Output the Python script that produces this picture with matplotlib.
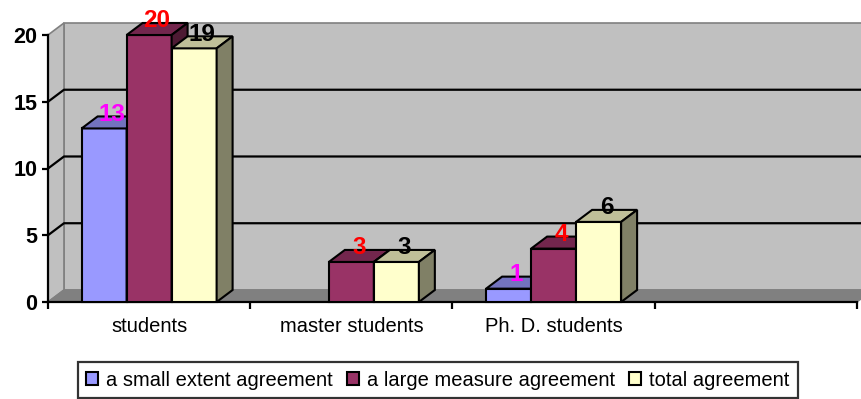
import numpy as np
import matplotlib
matplotlib.use('Agg')
from matplotlib import pyplot as plt
import matplotlib.patches as patches

plt.rcParams['font.family'] = ['Liberation Sans', 'DejaVu Sans']

categories = ['students', 'master students', 'Ph. D. students', '']
small_extent = [13, np.nan, 1, np.nan]
large_measure = [20, 3, 4, np.nan]
total = [19, 3, 6, np.nan]

series_names = ['a small extent agreement', 'a large measure agreement', 'total agreement']
front_colors = ['#9999FF', '#993366', '#FFFFCC']
top_colors = ['#7373BF', '#73264D', '#BFBF99']
side_colors = ['#4D4D80', '#4D1A33', '#808066']
label_colors = ['#FF00FF', '#FF0000', '#000000']

yticks = [0, 5, 10, 15, 20]

# 3d look: depth offset in data units
dx = 0.079
dy = 0.9
bw = 0.2225
ncat = len(categories)
ymax = 20

fig = plt.figure(figsize=(8.62, 3.99), dpi=100)
ax = fig.add_axes([48/862, 1-302/399, 809/862, 267/399])
ax.set_xlim(0, ncat)
ax.set_ylim(0, ymax)
ax.patch.set_alpha(0)

# walls and floor
back = patches.Polygon([(dx, dy), (ncat+dx, dy), (ncat+dx, ymax+dy), (dx, ymax+dy)],
                       closed=True, facecolor='#C0C0C0', edgecolor='#808080', lw=1.2,
                       clip_on=False, zorder=0)
left = patches.Polygon([(0, 0), (dx, dy), (dx, ymax+dy), (0, ymax)],
                       closed=True, facecolor='#C0C0C0', edgecolor='#808080', lw=1.2,
                       clip_on=False, zorder=0)
floor = patches.Polygon([(0, 0), (ncat, 0), (ncat+dx, dy), (dx, dy)],
                        closed=True, facecolor='#808080', edgecolor='#808080', lw=1.0,
                        clip_on=False, zorder=0.5)
ax.add_patch(back)
ax.add_patch(left)
ax.add_patch(floor)

for v in yticks[1:-1]:
    ax.plot([0, dx, ncat+dx], [v, v+dy, v+dy], color='black', lw=1.6,
            clip_on=False, zorder=1)

# bars, drawn left to right so the right bars cover the sides
series = [small_extent, large_measure, total]
z = 2
for i in range(ncat):
    for k, vals in enumerate(series):
        v = vals[i]
        if np.isnan(v):
            continue
        xc = i + 0.5 + (k-1)*bw
        x0 = xc - bw/2
        x1 = xc + bw/2
        ax.bar(xc, v, width=bw, color=front_colors[k], edgecolor='black',
               lw=1.5, zorder=z, clip_on=False)
        top = patches.Polygon([(x0, v), (x1, v), (x1+dx, v+dy), (x0+dx, v+dy)],
                              closed=True, facecolor=top_colors[k], edgecolor='black',
                              lw=1.5, zorder=z, clip_on=False)
        side = patches.Polygon([(x1, 0), (x1+dx, dy), (x1+dx, v+dy), (x1, v)],
                               closed=True, facecolor=side_colors[k], edgecolor='black',
                               lw=1.5, zorder=z, clip_on=False)
        ax.add_patch(top)
        ax.add_patch(side)
        ax.text(xc+dx/2, v+dy+0.15, '%d' % v, color=label_colors[k], fontsize=17.5,
                fontweight='bold', ha='center', va='center', zorder=50)
        z += 1

# axes
for s in ['top', 'right']:
    ax.spines[s].set_visible(False)
ax.spines['left'].set_linewidth(1.6)
ax.spines['bottom'].set_linewidth(1.6)
ax.spines['left'].set_zorder(1.5)
ax.spines['bottom'].set_zorder(1.5)

ax.set_yticks(yticks)
ax.set_yticklabels([str(t) for t in yticks], fontsize=15.5, fontweight='bold')
ax.tick_params(axis='y', length=4, width=1.6, pad=3.5)

ax.set_xticks(np.arange(ncat+1))
ax.set_xticklabels([])
ax.tick_params(axis='x', which='major', length=5, width=1.6)
ax.set_xticks(np.arange(ncat)+0.5, minor=True)
ax.set_xticklabels(categories, minor=True, fontsize=14.5)
ax.tick_params(axis='x', which='minor', length=0, pad=11)

handles = [patches.Patch(facecolor=c, edgecolor='black', lw=1.5) for c in front_colors]
leg = fig.legend(handles, series_names, loc='center', bbox_to_anchor=(0.508, 0.047),
                 ncol=3, fontsize=14.5, frameon=True, fancybox=False,
                 handlelength=0.6, handleheight=0.6, handletextpad=0.4,
                 columnspacing=0.7, borderpad=0.42, borderaxespad=0)
leg.get_frame().set_edgecolor('black')
leg.get_frame().set_linewidth(1.6)

fig.savefig('out.png', dpi=100)
